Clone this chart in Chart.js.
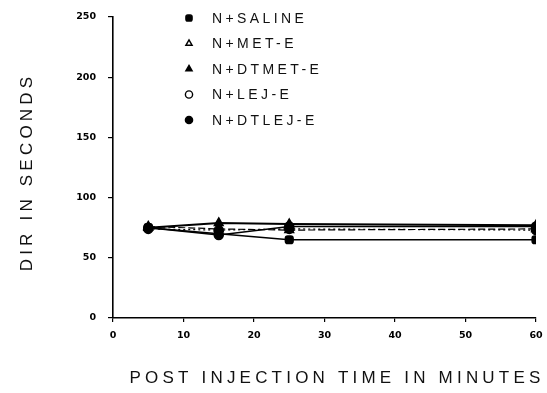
<!DOCTYPE html>
<html>
<head>
<meta charset="utf-8">
<script src="https://cdn.jsdelivr.net/npm/chart.js@4"></script>
<style>
  html, body { margin: 0; padding: 0; background: #fff; }
  #wrap { width: 547px; height: 393px; }
</style>
</head>
<body>
<div id="wrap"><canvas id="chart"></canvas></div>
<script>
// values
const minutes = [5, 15, 25, 60]
const saline = [75, 70, 65, 65]
const metE = [76, 74, 73, 74]
const dtmetE = [75, 79, 78, 77]
const lejE = [74, 73, 74, 73]
const dtlejE = [75, 69, 76, 76]
const yTicks = [0, 50, 100, 150, 200, 250]
const xTicks = [0, 10, 20, 30, 40, 50, 60]

const toPts = vals => vals.map((v, i) => ({ x: minutes[i], y: v }))

// legend + axis titles are drawn by hand so the letter spacing matches the scan
const paperText = {
  id: 'paperText',
  afterDraw (chart) {
    const ctx = chart.ctx
    ctx.save()
    ctx.fillStyle = '#111'
    ctx.textBaseline = 'middle'

    // legend
    ctx.font = '300 14px "Liberation Sans"'
    ctx.letterSpacing = '3.4px'
    chart.data.datasets.forEach((ds, i) => {
      const y = 18 + i * 25.5
      const x = 189
      ctx.lineWidth = 1.4
      ctx.strokeStyle = '#000'
      ctx.fillStyle = ds.legendFill
      Chart.helpers.drawPoint(ctx, { pointStyle: ds.pointStyle, radius: 3.6, rotation: 0, borderWidth: 1.4 }, x, y)
      ctx.fillStyle = '#111'
      ctx.textAlign = 'left'
      ctx.fillText(ds.label, 212, y + 1)
    })

    // x title
    ctx.font = '300 17px "Liberation Sans"'
    ctx.letterSpacing = '4.2px'
    ctx.textAlign = 'center'
    ctx.fillText('POST INJECTION TIME IN MINUTES', 337, 378)

    // y title
    ctx.translate(27, 172)
    ctx.rotate(-Math.PI / 2)
    ctx.fillText('DIR IN SECONDS', 0, 0)
    ctx.restore()
  }
}

const ds = (label, vals, style, fill, dash, width) => ({
  label: label,
  data: toPts(vals),
  borderColor: '#000',
  backgroundColor: fill,
  legendFill: fill,
  borderWidth: width,
  borderDash: dash,
  pointStyle: style,
  pointRadius: style === 'triangle' ? 5 : 4.5,
  pointBorderWidth: 1.5,
  pointBorderColor: '#000',
  pointBackgroundColor: '#000',
  tension: 0
})

const tickFont = { family: 'DejaVu Sans', size: 9.5, weight: '600' }

const chart = new Chart(document.getElementById('chart'), {
  type: 'line',
  data: {
    datasets: [
      ds('N+SALINE', saline, 'rectRounded', '#000', [], 1.6),
      ds('N+MET-E', metE, 'triangle', '#fff', [7, 3], 1.2),
      ds('N+DTMET-E', dtmetE, 'triangle', '#000', [], 2),
      ds('N+LEJ-E', lejE, 'circle', '#fff', [2, 3], 1.2),
      ds('N+DTLEJ-E', dtlejE, 'circle', '#000', [], 1.4)
    ]
  },
  options: {
    responsive: true,
    maintainAspectRatio: false,
    animation: false,
    layout: { padding: { top: 17, right: 11, left: 0, bottom: 0 } },
    plugins: { legend: { display: false }, tooltip: { enabled: false } },
    scales: {
      x: {
        type: 'linear',
        min: 0, max: 60,
        afterFit: s => { s.height = 75; s.paddingRight = 0; s.paddingLeft = 0 },
        afterBuildTicks: s => { s.ticks = xTicks.map(v => ({ value: v })) },
        border: { display: true, color: '#000', width: 1.6 },
        grid: { drawOnChartArea: false, drawTicks: true, tickLength: 4, color: '#000', lineWidth: 1.2 },
        ticks: { color: '#000', padding: 8, font: tickFont, maxRotation: 0 }
      },
      y: {
        min: 0, max: 250,
        afterFit: s => { s.width = 113; s.paddingTop = 0; s.paddingBottom = 0 },
        afterBuildTicks: s => { s.ticks = yTicks.map(v => ({ value: v })) },
        border: { display: true, color: '#000', width: 1.6 },
        grid: { drawOnChartArea: false, drawTicks: true, tickLength: 5, color: '#000', lineWidth: 1.2 },
        ticks: { color: '#000', padding: 12, font: tickFont }
      }
    }
  },
  plugins: [paperText]
})
</script>
</body>
</html>
